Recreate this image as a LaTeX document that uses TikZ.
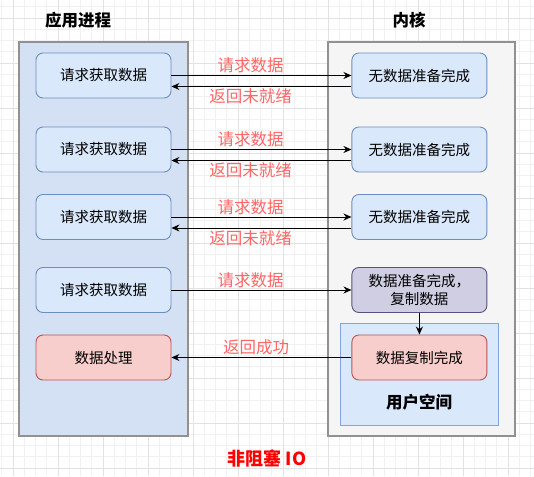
\documentclass[tikz,border=0pt]{standalone}
\usepackage{fontspec}
\setmainfont{Noto Sans CJK SC}
\usepackage{xcolor}
\usepackage{tikz}
\usetikzlibrary{arrows.meta,positioning}

\definecolor{gridminor}{HTML}{F1F1F1}
\definecolor{gridmajor}{HTML}{E2E2E2}
\definecolor{procfill}{HTML}{D4E1F5}
\definecolor{kernfill}{HTML}{F5F5F5}
\definecolor{wallline}{HTML}{919191}
\definecolor{boxfill}{HTML}{DAE8FC}
\definecolor{boxline}{HTML}{6C8EBF}
\definecolor{redfill}{HTML}{F8CECC}
\definecolor{redline}{HTML}{B85450}
\definecolor{purpfill}{HTML}{D0CEE2}
\definecolor{purpline}{HTML}{56517E}
\definecolor{userline}{HTML}{7EA6E0}
\definecolor{lblred}{HTML}{FF6666}

\begin{document}
\begin{tikzpicture}[x=1pt,y=-1pt,
  box/.style={draw=boxline, fill=boxfill, rounded corners=7pt, line width=0.9pt,
    minimum width=135pt, minimum height=45pt, font=\fontsize{14.5}{18}\selectfont},
  okbox/.style={box, draw=redline, fill=redfill},
  copybox/.style={box, draw=purpline, fill=purpfill, align=center},
  title/.style={font=\fontsize{16.5}{20}\selectfont\bfseries},
  lbl/.style={text=lblred, inner sep=2pt, font=\fontsize{16.5}{20}\selectfont},
  arr/.style={-{Stealth[length=8pt,width=7pt]}, line width=0.9pt},
  node distance=180pt]
  \useasboundingbox (0,0) rectangle (534,476);
  \fill[white] (0,0) rectangle (534,476);
  % 背景网格
  \begin{scope}[shift={(13,18)}]
    \draw[gridminor, step=11.25pt, line width=0.6pt] (-13,-18) grid (521,458);
    \draw[gridmajor, step=45pt, line width=0.6pt] (-13,-18) grid (521,458);
  \end{scope}

  % 两侧容器
  \draw[wallline, fill=procfill, line width=1.2pt] (19,42) rectangle (188,436);
  \draw[wallline, fill=kernfill, line width=1.2pt] (328,42) rectangle (515,436);
  \draw[userline, fill=boxfill, line width=0.9pt] (340,323) rectangle (498,425);

  \node[title] (app) at (78,20) {应用进程};
  \node[title] (kern) at (409,20) {内核};
  \node[title] (user) at (419,402) {用户空间};

  % 应用进程一侧
  \node[box] (l1) at (103.5,75.5) {请求获取数据};
  \node[box] (l2) at (103.5,149.5) {请求获取数据};
  \node[box] (l3) at (103.5,217) {请求获取数据};
  \node[box] (l4) at (103.5,290) {请求获取数据};
  \node[okbox] (l5) at (103.5,357.5) {数据处理};

  % 内核一侧
  \node[box, right=of l1] (r1) {无数据准备完成};
  \node[box, right=of l2] (r2) {无数据准备完成};
  \node[box, right=of l3] (r3) {无数据准备完成};
  \node[copybox, right=of l4] (r4) {数据准备完成，\\复制数据};
  \node[okbox, right=of l5] (r5) {数据复制完成};

  % 请求与返回
  \draw[arr] (l1) -- node[lbl, above, pos=0.44] {请求数据} (r1);
  \draw[arr] ([yshift=-11pt]r1.west) -- node[lbl, below, pos=0.56] {返回未就绪} ([yshift=-11pt]l1.east);
  \draw[arr] (l2) -- node[lbl, above, pos=0.44] {请求数据} (r2);
  \draw[arr] ([yshift=-11pt]r2.west) -- node[lbl, below, pos=0.56] {返回未就绪} ([yshift=-11pt]l2.east);
  \draw[arr] (l3) -- node[lbl, above, pos=0.44] {请求数据} (r3);
  \draw[arr] ([yshift=-11pt]r3.west) -- node[lbl, below, pos=0.56] {返回未就绪} ([yshift=-11pt]l3.east);
  \draw[arr] (l4) -- node[lbl, above, pos=0.44] {请求数据} (r4);
  \draw[arr] (r4) -- (r5);
  \draw[arr] (r5) -- node[lbl, above, pos=0.53] {返回成功} (l5);

  \node[font=\fontsize{18}{22}\selectfont\bfseries, text=red] (cap) at (267,458) {非阻塞 IO};
\end{tikzpicture}
\end{document}
